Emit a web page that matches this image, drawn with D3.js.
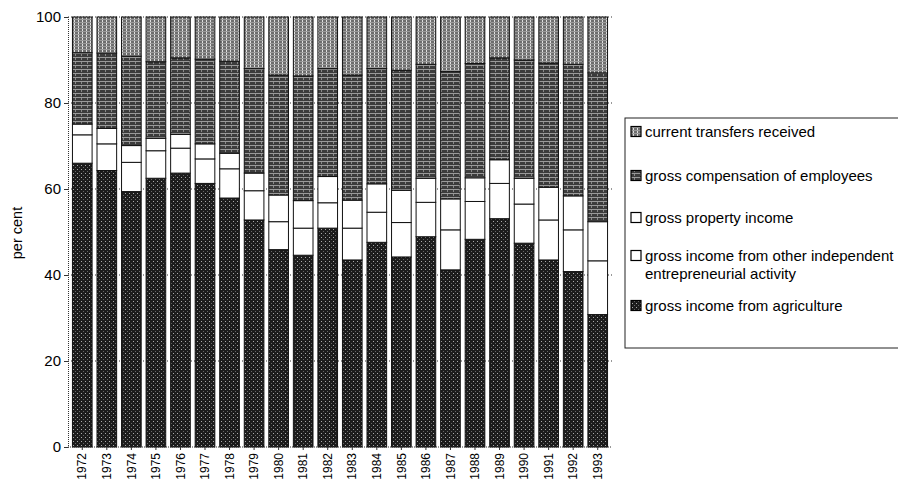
<!DOCTYPE html>
<meta charset="utf-8">
<style>
body { margin: 0; background: #fff; }
svg { font-family: "Liberation Sans", Arial, sans-serif; }
.tick text { fill: #000; }
</style>
<body>
<script src="https://cdn.jsdelivr.net/npm/d3@7"></script>
<script>

// data (per cent of total, bottom to top)
var years = ["1972","1973","1974","1975","1976","1977","1978","1979","1980","1981","1982",
             "1983","1984","1985","1986","1987","1988","1989","1990","1991","1992","1993"];
var agriculture  = [66.0,64.3,59.4,62.5,63.7,61.3,57.9,52.8,45.9,44.6,50.9,43.5,47.6,44.2,48.9,41.2,48.3,53.1,47.4,43.5,40.8,30.8];
var otherIndep   = [6.6,6.2,6.8,6.4,5.8,5.7,6.8,6.8,6.5,6.3,5.9,7.4,7.0,8.0,8.0,9.3,8.8,8.2,9.1,9.3,9.7,12.5];
var property     = [2.5,3.6,3.9,2.9,3.2,3.5,3.6,4.1,6.2,6.4,6.1,6.5,6.6,7.5,5.6,7.2,5.5,5.5,6.0,7.6,7.9,9.1];
var compensation = [16.6,17.5,20.8,17.8,17.8,19.7,21.4,24.3,27.9,29.0,25.1,29.1,26.8,27.9,26.5,29.6,26.6,23.7,27.5,28.9,30.6,34.6];
var transfers    = [8.3,8.4,9.1,10.4,9.5,9.8,10.3,12.0,13.5,13.7,12.0,13.5,12.0,12.4,11.0,12.7,10.8,9.5,10.0,10.7,11.0,13.0];
var yTicks = [0, 20, 40, 60, 80, 100];

var keys = ["agriculture", "otherIndep", "property", "compensation", "transfers"];
var legendLabels = {
  transfers: ["current transfers received"],
  compensation: ["gross compensation of employees"],
  property: ["gross property income"],
  otherIndep: ["gross income from other independent", "entrepreneurial activity"],
  agriculture: ["gross income from agriculture"]
};

var rows = years.map(function(y, i) {
  return { year: y, agriculture: agriculture[i], otherIndep: otherIndep[i], property: property[i],
           compensation: compensation[i], transfers: transfers[i] };
});

var width = 898, height = 488;
var svg = d3.select("body").append("svg")
    .attr("width", width)
    .attr("height", height);

// textures for the scanned grey fills
var defs = svg.append("defs");
var pt = defs.append("pattern").attr("id", "p-transfers")
    .attr("width", 4).attr("height", 3).attr("patternUnits", "userSpaceOnUse");
pt.append("rect").attr("width", 4).attr("height", 3).attr("fill", "#6e6e6e");
pt.append("rect").attr("x", 2).attr("width", 1).attr("height", 3).attr("fill", "#e0e0e0");
pt.append("rect").attr("y", 1).attr("width", 4).attr("height", 1).attr("fill", "#9a9a9a");

var pc = defs.append("pattern").attr("id", "p-compensation")
    .attr("width", 6).attr("height", 4).attr("patternUnits", "userSpaceOnUse");
pc.append("rect").attr("width", 6).attr("height", 4).attr("fill", "#3c3c3c");
pc.append("rect").attr("y", 1).attr("width", 6).attr("height", 1).attr("fill", "#9a9a9a");
pc.append("rect").attr("x", 3).attr("y", 2).attr("width", 1).attr("height", 2).attr("fill", "#8a8a8a");

var pa = defs.append("pattern").attr("id", "p-agriculture")
    .attr("width", 4).attr("height", 4).attr("patternUnits", "userSpaceOnUse");
pa.append("rect").attr("width", 4).attr("height", 4).attr("fill", "#1c1c1c");
pa.append("rect").attr("x", 1).attr("y", 1).attr("width", 1).attr("height", 1).attr("fill", "#aaa");
pa.append("rect").attr("x", 3).attr("y", 3).attr("width", 1).attr("height", 1).attr("fill", "#666");

var fills = {
  transfers: "url(#p-transfers)",
  compensation: "url(#p-compensation)",
  property: "#fff",
  otherIndep: "#fff",
  agriculture: "url(#p-agriculture)"
};

var x = d3.scaleBand().domain(years).range([70, 610]).paddingInner(0.2).paddingOuter(0.1);
var y = d3.scaleLinear().domain([0, 100]).range([447, 17]);

// dotted grid lines
svg.append("g").selectAll("line")
    .data(yTicks.filter(function(d) { return d > 0; }))
  .enter().append("line")
    .attr("x1", 68).attr("x2", 612)
    .attr("y1", function(d) { return y(d); })
    .attr("y2", function(d) { return y(d); })
    .attr("stroke", "#333")
    .attr("stroke-dasharray", "1,2");

var series = d3.stack().keys(keys)(rows);

svg.append("g").selectAll("g")
    .data(series)
  .enter().append("g")
    .attr("fill", function(d) { return fills[d.key]; })
  .selectAll("rect")
    .data(function(d) { return d; })
  .enter().append("rect")
    .attr("x", function(d) { return x(d.data.year); })
    .attr("width", x.bandwidth())
    .attr("y", function(d) { return y(d[1]); })
    .attr("height", function(d) { return y(d[0]) - y(d[1]); })
    .attr("stroke", "#111")
    .attr("stroke-width", 1);

// y axis
var yAxis = svg.append("g")
    .attr("transform", "translate(68,0)")
    .call(d3.axisLeft(y).tickValues(yTicks).tickSize(4).tickPadding(3));
yAxis.select(".domain").attr("stroke", "#333").attr("stroke-dasharray", "1,1");
yAxis.selectAll(".tick line").attr("stroke", "#333");
yAxis.selectAll("text").style("font-size", "15px");

// x axis
var xAxis = svg.append("g")
    .attr("transform", "translate(0,447)")
    .call(d3.axisBottom(x).tickSize(3).tickSizeOuter(0));
xAxis.select(".domain").attr("stroke", "#333").attr("stroke-dasharray", "1,1")
    .attr("d", "M68,0H612");
xAxis.selectAll(".tick line").attr("stroke", "#333");
xAxis.selectAll("text")
    .style("font-size", "12px")
    .style("text-anchor", "end")
    .attr("transform", "rotate(-90)")
    .attr("x", -6)
    .attr("y", 0)
    .attr("dy", "0.35em");

svg.append("text")
    .attr("transform", "translate(22,233) rotate(-90)")
    .attr("text-anchor", "middle")
    .style("font-size", "14.5px")
    .text("per cent");

// legend
var legend = svg.append("g");
legend.append("rect")
    .attr("x", 625).attr("y", 118)
    .attr("width", 290).attr("height", 230)
    .attr("fill", "#fff")
    .attr("stroke", "#222");

var legendY = { transfers: 132, compensation: 176, property: 218, otherIndep: 256, agriculture: 306 };
var items = legend.selectAll(".item")
    .data(keys.slice().reverse())
  .enter().append("g")
    .attr("class", "item")
    .attr("transform", function(d) { return "translate(631," + legendY[d] + ")"; });

items.append("rect")
    .attr("x", 0).attr("y", -5.5)
    .attr("width", 10).attr("height", 10)
    .attr("fill", function(d) { return fills[d]; })
    .attr("stroke", "#000")
    .attr("stroke-width", 1.2);

items.append("text")
    .attr("x", 14)
    .style("font-size", "15px")
    .selectAll("tspan")
    .data(function(d) { return legendLabels[d]; })
  .enter().append("tspan")
    .attr("x", 14)
    .attr("dy", function(d, i) { return i === 0 ? "0.35em" : "1.15em"; })
    .text(function(d) { return d; });

</script>
</body>
